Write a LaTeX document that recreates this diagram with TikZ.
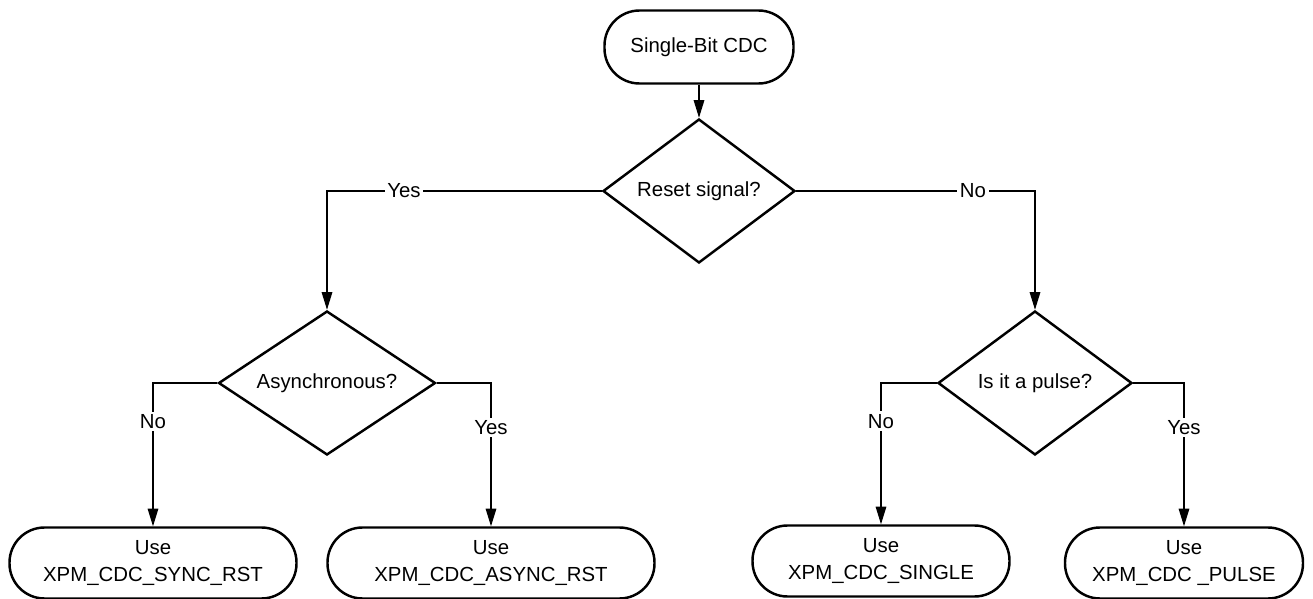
\documentclass[tikz,border=0pt]{standalone}
\usepackage{fontspec}
\setmainfont{Liberation Sans}
\usetikzlibrary{shapes.geometric, arrows.meta, positioning, calc}

\begin{document}
\begin{tikzpicture}[
    font=\fontsize{11.6}{15.6}\selectfont,
    >={Triangle[length=10pt, width=6pt]},
    terminal/.style={
        draw=black, line width=1.4pt, rounded corners=0.7cm,
        minimum height=1.42cm, align=center, inner sep=2pt
    },
    decision/.style={
        diamond, draw=black, line width=1.4pt, aspect=1.4,
        minimum height=2.88cm, inner sep=0pt, align=center
    },
    flow/.style={
        ->, line width=0.7pt, draw=black
    },
    branchlabel/.style={
        fill=white, inner sep=1.5pt
    }
]

    % Canvas
    \useasboundingbox (0, 0) rectangle (26.26, -11.98);

    % Start
    \node[terminal, minimum width=3.78cm, minimum height=1.46cm] (start) at (13.98, -0.94) {Single-Bit CDC};

    % Decisions
    \node[decision, minimum width=3.84cm] (reset) at (13.98, -3.82) {Reset signal?};
    \node[decision, minimum width=4.34cm] (async) at (6.54, -7.66) {Asynchronous?};
    \node[decision, minimum width=3.88cm] (pulse) at (20.70, -7.66) {Is it a pulse?};

    % Results
    \node[terminal, minimum width=5.74cm] (syncrst) at (3.06, -11.26) {Use\\XPM\_CDC\_SYNC\_RST};
    \node[terminal, minimum width=6.54cm] (asyncrst) at (9.82, -11.26) {Use\\XPM\_CDC\_ASYNC\_RST};
    \node[terminal, minimum width=5.14cm] (single) at (17.62, -11.22) {Use\\XPM\_CDC\_SINGLE};
    \node[terminal, minimum width=4.76cm] (pulsecdc) at (23.68, -11.26) {Use\\XPM\_CDC \_PULSE};

    % Connections
    \draw[flow] (start.south) -- (reset.north);
    \draw[flow] (reset.west) -| (async.north) node[pos=0.36, branchlabel] {Yes};
    \draw[flow] (reset.east) -| (pulse.north) node[pos=0.37, branchlabel] {No};

    \draw[flow] (async.west) -| (syncrst.north) node[pos=0.635, branchlabel] {No};
    \draw[flow] (async.east) -| (asyncrst.north) node[pos=0.655, branchlabel] {Yes};
    \draw[flow] (pulse.west) -| (single.north) node[pos=0.635, branchlabel] {No};
    \draw[flow] (pulse.east) -| (pulsecdc.north) node[pos=0.655, branchlabel] {Yes};

\end{tikzpicture}
\end{document}
